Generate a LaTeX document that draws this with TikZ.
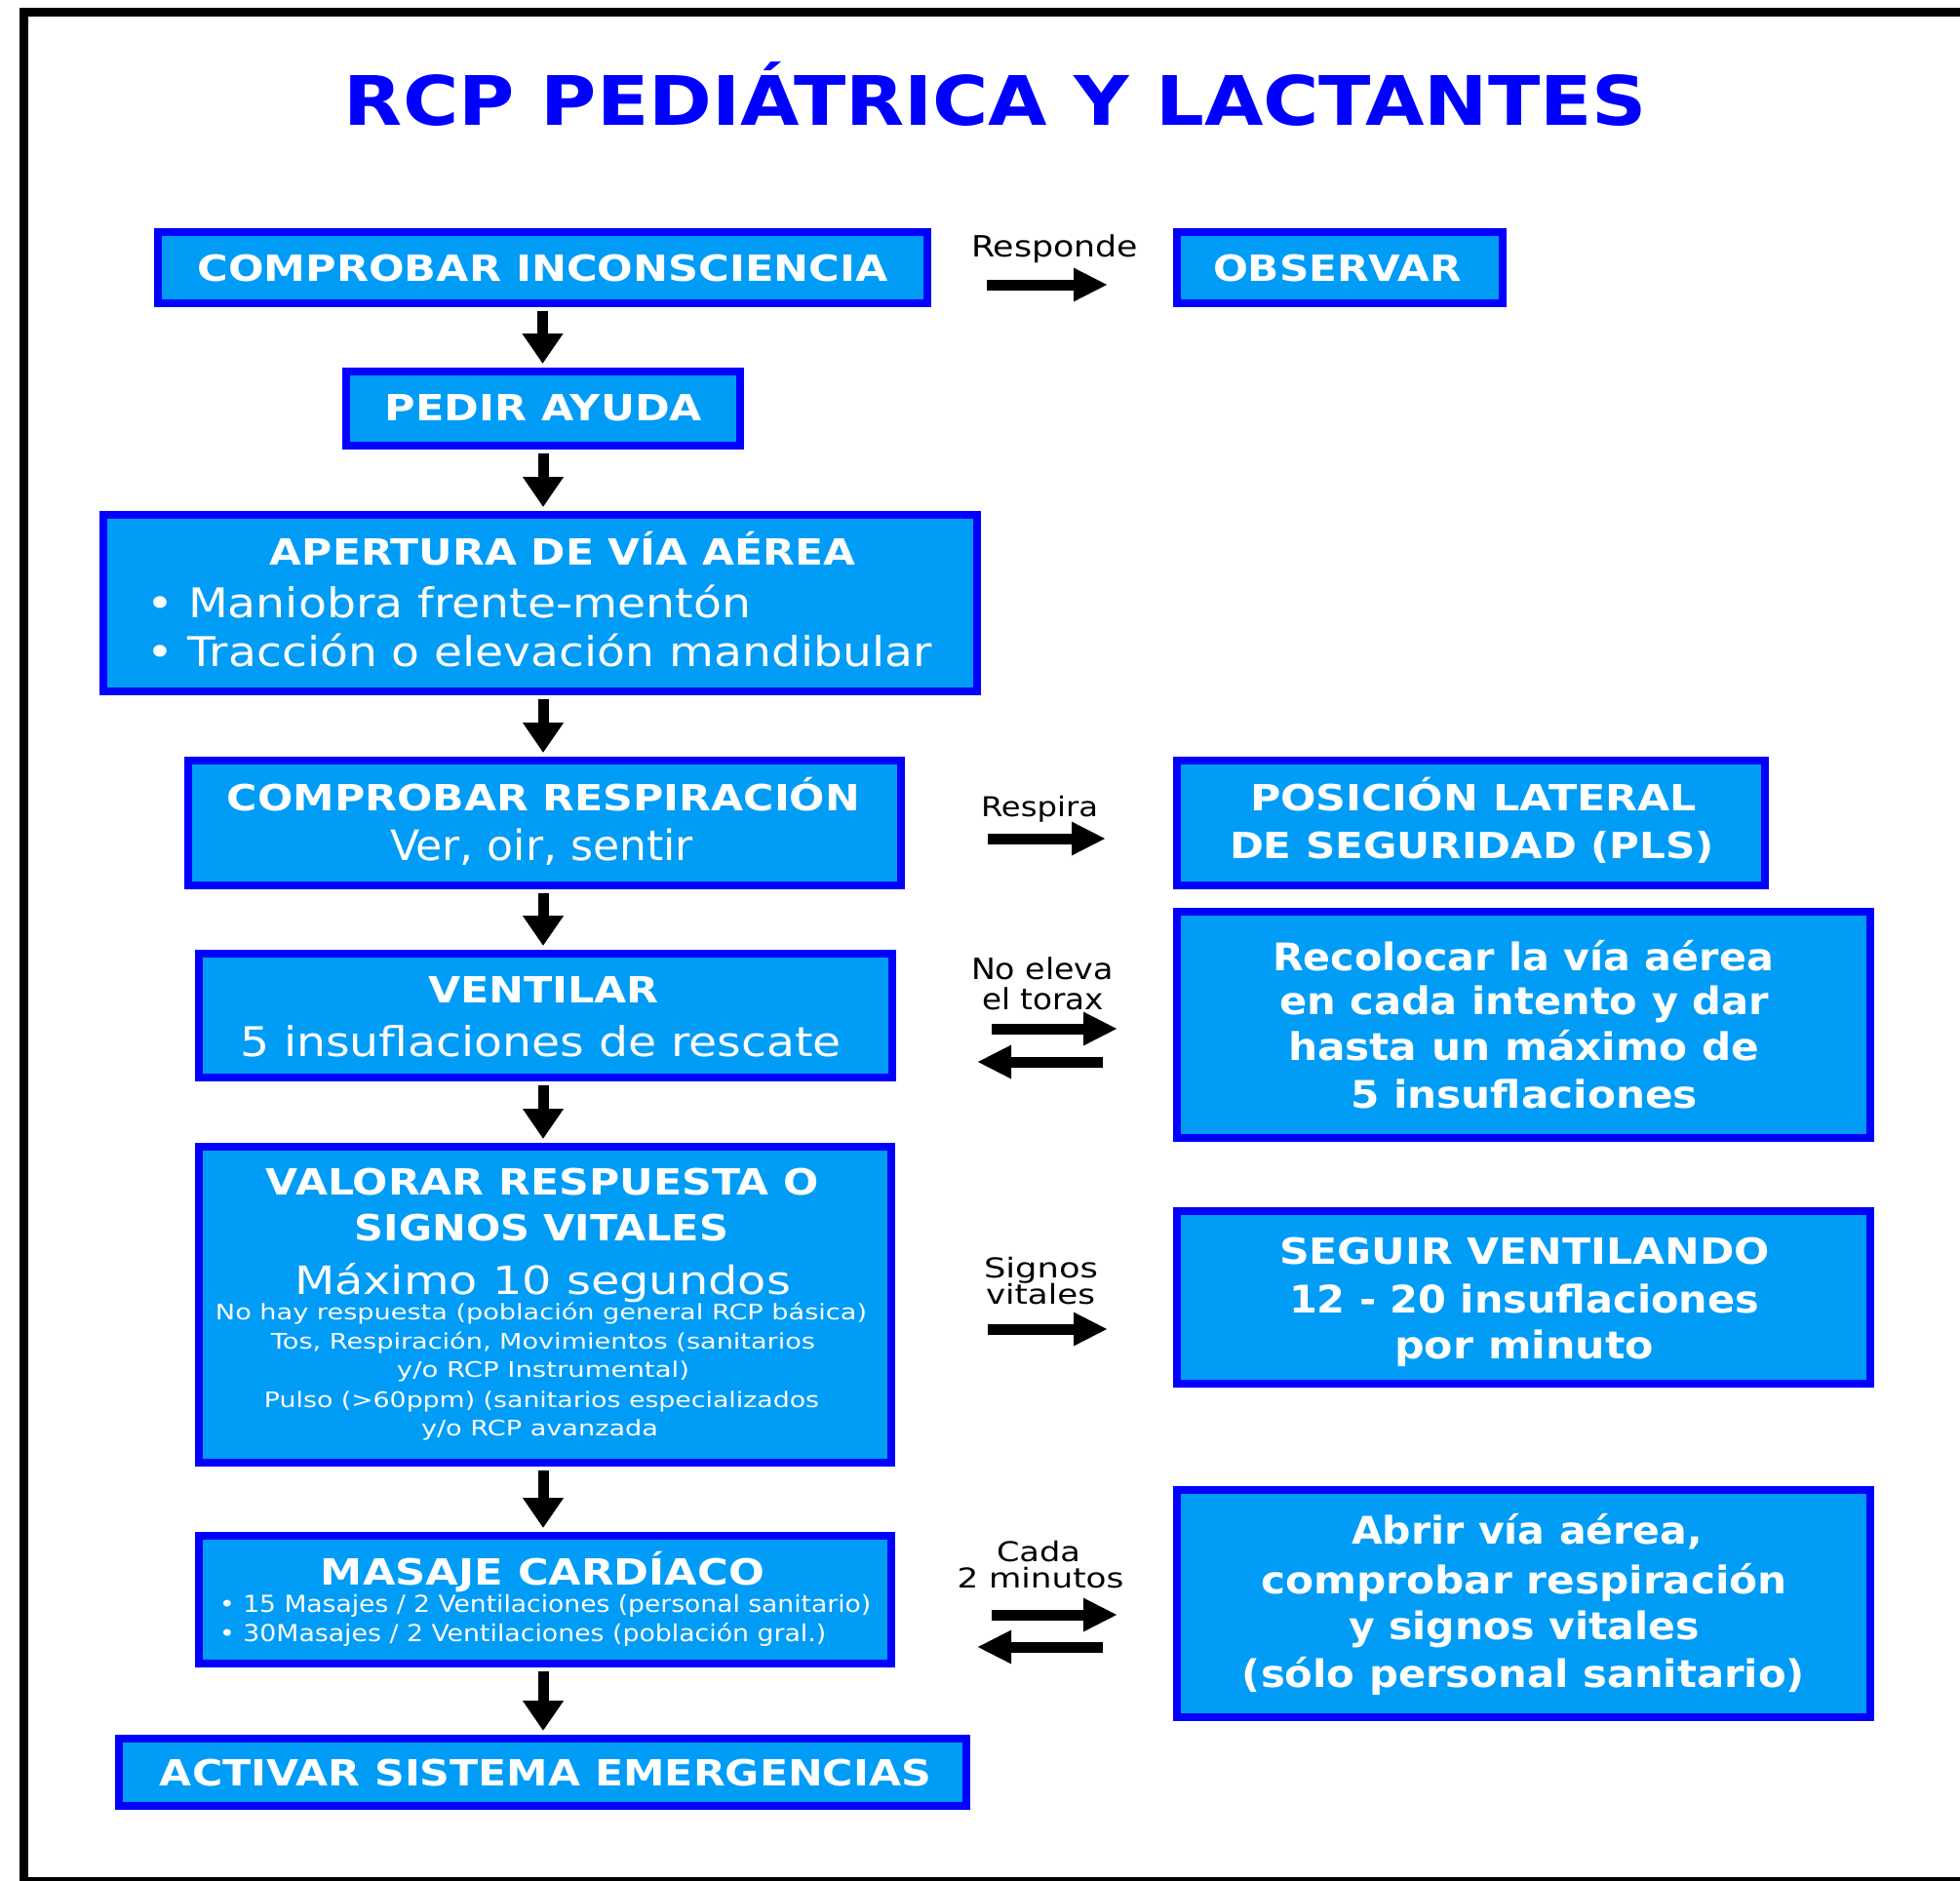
\documentclass[tikz,border=0pt]{standalone}
\usepackage{fontspec}
\setmainfont{DejaVu Sans}
\usepackage{graphicx}
\usetikzlibrary{arrows.meta}
\definecolor{boxfill}{RGB}{0,156,246}
\definecolor{boxline}{RGB}{0,0,255}
\newcommand\fw[2]{\resizebox{#1pt}{\height}{#2}}
\newcommand\fs[1]{\fontsize{#1}{#1}\selectfont}
\begin{document}
\begin{tikzpicture}[x=1pt,y=-1pt,
  box/.style={draw=boxline, fill=boxfill, line width=8pt, inner sep=0pt},
  wt/.style={inner sep=0pt, anchor=base, text=white, font=\bfseries},
  wr/.style={inner sep=0pt, anchor=base, text=white},
  wrl/.style={inner sep=0pt, anchor=base west, text=white},
  lbl/.style={inner sep=0pt, anchor=base, text=black},
  harrow/.style={line width=11pt, -{Triangle[width=32pt,length=35pt]}},
  varrow/.style={line width=11pt, -{Triangle[width=40pt,length=31pt]}, shorten <=4pt, shorten >=4pt}]
\clip (0,0) rectangle (2010,1929);
\fill[white] (0,0) rectangle (2010,1929);
\draw[line width=9pt] (24,12.5) rectangle (2050,1929);

% title
\node[inner sep=0pt, anchor=base, text=boxline, font=\bfseries] (title) at (1021,129) {\fs{70}\fw{1336}{RCP PEDIÁTRICA Y LACTANTES}};

% boxes
\node[box, minimum width=789pt, minimum height=73pt] (inc) at (556.5,274.5) {};
\node[box, minimum width=334pt, minimum height=73pt] (obs) at (1374,274.5) {};
\node[box, minimum width=404pt, minimum height=76pt] (pedir) at (557,419) {};
\node[box, minimum width=896pt, minimum height=181pt] (aper) at (554,618.5) {};
\node[box, minimum width=731pt, minimum height=128pt] (resp) at (558.5,844) {};
\node[box, minimum width=603pt, minimum height=128pt] (pls) at (1508.5,844) {};
\node[box, minimum width=711pt, minimum height=127pt] (vent) at (559.5,1041.5) {};
\node[box, minimum width=711pt, minimum height=232pt] (recol) at (1562.5,1051) {};
\node[box, minimum width=710pt, minimum height=324pt] (valor) at (559,1338) {};
\node[box, minimum width=711pt, minimum height=177pt] (seguir) at (1562.5,1330.5) {};
\node[box, minimum width=710pt, minimum height=131pt] (masaje) at (559,1640.5) {};
\node[box, minimum width=711pt, minimum height=233pt] (abrir) at (1562.5,1644.5) {};
\node[box, minimum width=869pt, minimum height=69pt] (activ) at (556.5,1817.5) {};

% box texts
\node[wt] (inc-t) at (556.5,288) {\fs{37}\fw{708}{COMPROBAR INCONSCIENCIA}};
\node[wt] (obs-t) at (1371.5,288) {\fs{37}\fw{255}{OBSERVAR}};
\node[wt] (pedir-t) at (557.5,431) {\fs{37}\fw{325}{PEDIR AYUDA}};
\node[wt] (aper-t1) at (577,579) {\fs{37}\fw{600}{APERTURA DE VÍA AÉREA}};
\node[wrl] (aper-t2) at (150,633) {\fs{42}\fw{620}{• Maniobra frente-mentón}};
\node[wrl] (aper-t3) at (150,683) {\fs{42}\fw{805}{• Tracción o elevación mandibular}};
\node[wt] (resp-t1) at (557.5,831) {\fs{37}\fw{649}{COMPROBAR RESPIRACIÓN}};
\node[wr] (resp-t2) at (555.5,882) {\fs{43}\fw{311}{Ver, oir, sentir}};
\node[wt] (pls-t1) at (1511,831) {\fs{37}\fw{458}{POSICIÓN LATERAL}};
\node[wt] (pls-t2) at (1509.5,880) {\fs{37}\fw{497}{DE SEGURIDAD (PLS)}};
\node[wt] (vent-t1) at (557.5,1028) {\fs{37}\fw{237}{VENTILAR}};
\node[wr] (vent-t2) at (554.5,1083) {\fs{42}\fw{617}{5 insuflaciones de rescate}};
\node[wt] (recol-t1) at (1562,995) {\fs{39}\fw{514}{Recolocar la vía aérea}};
\node[wt] (recol-t2) at (1563,1040) {\fs{39}\fw{502}{en cada intento y dar}};
\node[wt] (recol-t3) at (1562.5,1087) {\fs{39}\fw{483}{hasta un máximo de}};
\node[wt] (recol-t4) at (1563,1136) {\fs{39}\fw{356}{5 insuflaciones}};
\node[wt] (valor-t1) at (556.5,1225) {\fs{37}\fw{567}{VALORAR RESPUESTA O}};
\node[wt] (valor-t2) at (555.5,1272) {\fs{37}\fw{383}{SIGNOS VITALES}};
\node[wr] (valor-t3) at (556.5,1327) {\fs{40}\fw{509}{Máximo 10 segundos}};
\node[wr] (valor-t4) at (555,1353) {\fs{22}\fw{668}{No hay respuesta (población general RCP básica)}};
\node[wr] (valor-t5) at (557,1383) {\fs{22}\fw{558}{Tos, Respiración, Movimientos (sanitarios}};
\node[wr] (valor-t6) at (557,1412) {\fs{22}\fw{300}{y/o RCP Instrumental)}};
\node[wr] (valor-t7) at (555.5,1443) {\fs{22}\fw{569}{Pulso (>60ppm) (sanitarios especializados}};
\node[wr] (valor-t8) at (553.5,1472) {\fs{22}\fw{243}{y/o RCP avanzada}};
\node[wt] (seguir-t1) at (1563.5,1296) {\fs{37}\fw{503}{SEGUIR VENTILANDO}};
\node[wt] (seguir-t2) at (1563,1346) {\fs{39}\fw{482}{12 - 20 insuflaciones}};
\node[wt] (seguir-t3) at (1563,1393) {\fs{39}\fw{266}{por minuto}};
\node[wt] (masaje-t1) at (556.5,1625) {\fs{37}\fw{455}{MASAJE CARDÍACO}};
\node[wrl] (masaje-t2) at (225,1653) {\fs{24}\fw{668}{• 15 Masajes / 2 Ventilaciones (personal sanitario)}};
\node[wrl] (masaje-t3) at (225,1683) {\fs{24}\fw{622}{• 30Masajes / 2 Ventilaciones (población gral.)}};
\node[wt] (abrir-t1) at (1566,1583) {\fs{39}\fw{360}{Abrir vía aérea,}};
\node[wt] (abrir-t2) at (1563,1634) {\fs{39}\fw{540}{comprobar respiración}};
\node[wt] (abrir-t3) at (1563,1681) {\fs{39}\fw{360}{y signos vitales}};
\node[wt] (abrir-t4) at (1562.5,1730) {\fs{39}\fw{577}{(sólo personal sanitario)}};
\node[wt] (activ-t) at (559.5,1831) {\fs{37}\fw{791}{ACTIVAR SISTEMA EMERGENCIAS}};

% arrow labels
\node[lbl] (l-resp) at (1081.5,263) {\fs{30}\fw{171}{Responde}};
\node[lbl] (l-respira) at (1066,837) {\fs{28}\fw{120}{Respira}};
\node[lbl] (l-noel1) at (1069,1004) {\fs{30}\fw{146}{No eleva}};
\node[lbl] (l-noel2) at (1069.5,1035) {\fs{30}\fw{125}{el torax}};
\node[lbl] (l-sig1) at (1067.5,1310) {\fs{28}\fw{117}{Signos}};
\node[lbl] (l-sig2) at (1067,1337) {\fs{28}\fw{112}{vitales}};
\node[lbl] (l-cada1) at (1065,1601) {\fs{28}\fw{86}{Cada}};
\node[lbl] (l-cada2) at (1067,1628) {\fs{28}\fw{171}{2 minutos}};

% vertical arrows
\draw[varrow] (inc.south) -- (inc.south |- pedir.north);
\draw[varrow] (pedir.south) -- (pedir.south |- aper.north);
\draw[varrow] (aper.south -| pedir.south) -- (pedir.south |- resp.north);
\draw[varrow] (resp.south -| pedir.south) -- (pedir.south |- vent.north);
\draw[varrow] (vent.south -| pedir.south) -- (pedir.south |- valor.north);
\draw[varrow] (valor.south -| pedir.south) -- (pedir.south |- masaje.north);
\draw[varrow] (masaje.south -| pedir.south) -- (pedir.south |- activ.north);

% horizontal arrows
\coordinate (a1s) at (1012,292); \coordinate (a1e) at (1136,292);
\coordinate (a2s) at (1013,860); \coordinate (a2e) at (1134,860);
\coordinate (a3s) at (1017,1055); \coordinate (a3e) at (1146,1055);
\coordinate (a4s) at (1131,1089); \coordinate (a4e) at (1002,1089);
\coordinate (a5s) at (1013,1363); \coordinate (a5e) at (1136,1363);
\coordinate (a6s) at (1017,1656); \coordinate (a6e) at (1146,1656);
\coordinate (a7s) at (1131,1689); \coordinate (a7e) at (1002,1689);
\draw[harrow] (a1s) -- (a1e);
\draw[harrow] (a2s) -- (a2e);
\draw[harrow] (a3s) -- (a3e);
\draw[harrow] (a4s) -- (a4e);
\draw[harrow] (a5s) -- (a5e);
\draw[harrow] (a6s) -- (a6e);
\draw[harrow] (a7s) -- (a7e);
\end{tikzpicture}
\end{document}
